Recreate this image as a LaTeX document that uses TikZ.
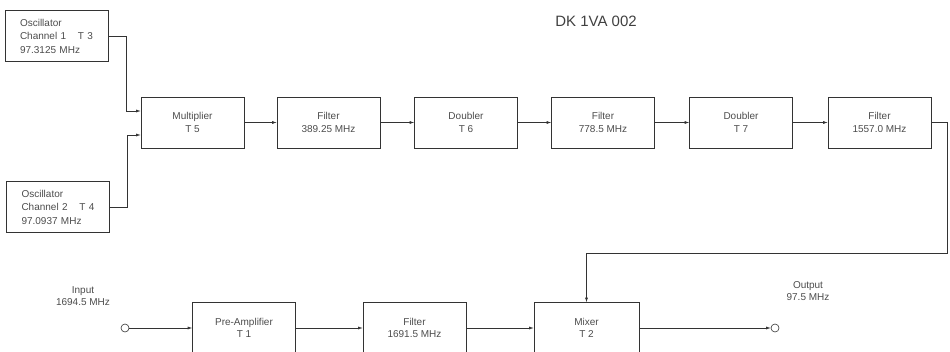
\documentclass[tikz,border=0pt]{standalone}
\usepackage{fontspec}
\setmainfont{Liberation Sans}
\usetikzlibrary{arrows.meta}

\begin{document}
\begin{tikzpicture}[x=1pt,y=-1pt,
  blk/.style={draw=black!80, line width=0.6pt, minimum width=103pt,
    minimum height=51pt, align=center, text=black!70,
    font=\fontsize{10}{12.5}\selectfont},
  osc/.style={blk, align=left, text width=73pt, inner xsep=15pt,
    font=\fontsize{10}{13.5}\selectfont},
  port/.style={draw=black!80, line width=0.6pt, circle, minimum size=8pt, inner sep=0pt},
  lbl/.style={align=center, text=black!70, font=\fontsize{10}{12.5}\selectfont},
  wire/.style={draw=black!80, line width=0.6pt},
  arr/.style={wire, -{Latex[length=4.5pt,width=3pt]}}]
  \useasboundingbox (0,0) rectangle (950,351);

  % title
  \node[text=black!75, font=\fontsize{15}{18}\selectfont] (title) at (596,21) {DK 1VA 002};

  % oscillators
  \node[osc] (osc1) at (56.5,36) {Oscillator\\Channel 1\hfill T 3\\97.3125 MHz};
  \node[osc] (osc2) at (58,207) {Oscillator\\Channel 2\hfill T 4\\97.0937 MHz};

  % upper chain
  \node[blk] (mult)  at (192.5,122.5) {Multiplier\\T 5};
  \node[blk] (filt1) at (328.5,122.5) {Filter\\389.25 MHz};
  \node[blk] (dbl1)  at (466,122.5)   {Doubler\\T 6};
  \node[blk] (filt2) at (603,122.5)   {Filter\\778.5 MHz};
  \node[blk] (dbl2)  at (741,122.5)   {Doubler\\T 7};
  \node[blk] (filt3) at (879.5,122.5) {Filter\\1557.0 MHz};

  % lower chain
  \node[port] (in) at (125,328) {};
  \node[lbl] (inlbl) at (83,296) {Input\\1694.5 MHz};
  \node[blk] (pre)   at (244,328)   {Pre-Amplifier\\T 1};
  \node[blk] (filt4) at (414.5,328) {Filter\\1691.5 MHz};
  \node[blk, minimum width=105pt] (mixer) at (586.5,328) {Mixer\\T 2};
  \node[port] (out) at (775,328) {};
  \node[lbl] (outlbl) at (808,291) {Output\\97.5 MHz};

  \coordinate (ret) at (947,253);

  % connections
  \draw[arr] (osc1.east) -- ++(18,0) |- ([yshift=11.5pt]mult.west);
  \draw[arr] (osc2.east) -- ++(17,0) |- ([yshift=-12.5pt]mult.west);
  \draw[arr] (mult) -- (filt1);
  \draw[arr] (filt1) -- (dbl1);
  \draw[arr] (dbl1) -- (filt2);
  \draw[arr] (filt2) -- (dbl2);
  \draw[arr] (dbl2) -- (filt3);
  \draw[arr] (filt3.east) -| (ret) -| (mixer.north);
  \draw[arr] (in) -- (pre);
  \draw[arr] (pre) -- (filt4);
  \draw[arr] (filt4) -- (mixer);
  \draw[arr] (mixer) -- (out);
\end{tikzpicture}
\end{document}
